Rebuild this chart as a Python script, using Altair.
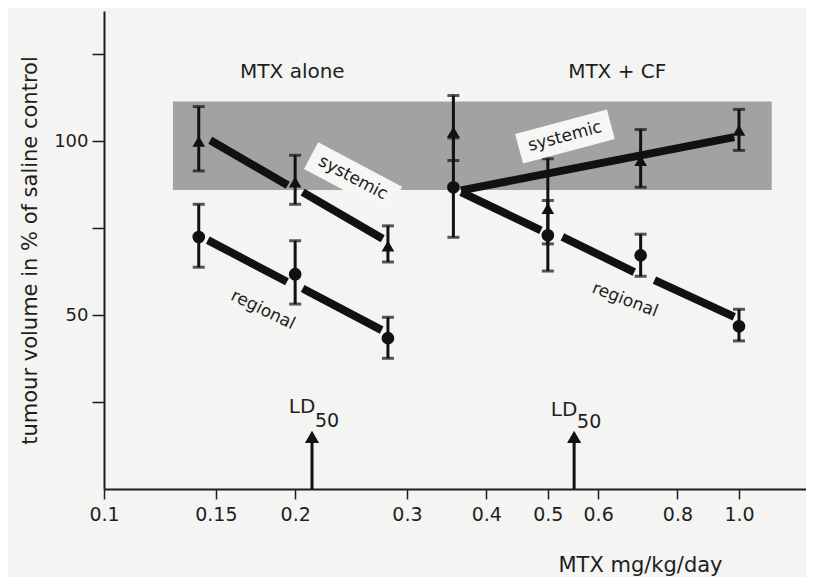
import altair as alt
import pandas as pd

FONT = "DejaVu Sans"
INK = "#1e1e1e"

# ---------------- data ----------------
# MTX alone
alone_x = [0.141, 0.2, 0.28]
alone_sys = [100.0, 88.3, 69.9]
alone_sys_lo = [91.5, 81.9, 65.3]
alone_sys_hi = [110.0, 96.0, 75.7]
alone_reg = [72.5, 61.8, 43.4]
alone_reg_lo = [63.8, 53.2, 37.6]
alone_reg_hi = [81.9, 71.4, 49.4]

# MTX + CF
cf_x = [0.355, 0.5, 0.7, 1.0]
cf_sys = [102.7, 80.7, 94.5, 103.2]
cf_sys_lo = [94.5, 70.5, 86.8, 97.4]
cf_sys_hi = [113.2, 95.0, 103.4, 109.2]
cf_reg = [86.8, 73.0, 67.2, 46.8]
cf_reg_lo = [72.4, 62.7, 61.2, 42.6]
cf_reg_hi = [101.0, 83.0, 73.3, 51.7]

# fitted (thick) lines, drawn as segments with gaps
seg_x1 = [0.147, 0.2055, 0.1457, 0.2055, 0.365, 0.365, 0.527, 0.736]
seg_y1 = [100.3, 85.4, 71.6, 57.7, 85.9, 85.4, 72.5, 60.1]
seg_x2 = [0.1947, 0.2747, 0.1942, 0.2737, 0.983, 0.4877, 0.684, 0.983]
seg_y2 = [87.4, 72.0, 59.6, 45.7, 101.2, 74.4, 62.4, 49.5]

# saline-control range (shaded band)
band_x = [0.1284]
band_x2 = [1.126]
band_y = [86.0]
band_y2 = [111.5]

# group headings
head_text = ["MTX alone", "MTX + CF"]
head_x = [0.198, 0.643]
head_y = [120.0, 120.0]

# line labels
lab_text = ["systemic", "regional", "systemic", "regional"]
lab_x = [0.2467, 0.178, 0.532, 0.6614]
lab_y = [89.5, 51.5, 101.4, 54.4]
lab_angle = [28, 26, -15, 21]
box_x = [0.2467, 0.532]
box_y = [89.5, 101.4]
box_angle = [28, -15]

# LD50 markers
ld_x = [0.2126, 0.55]
ld_head = [15.0, 15.0]
ld_text_y = [23.6, 22.7]
ld_sub_y = [19.6, 19.3]

# axes
x_ticks = [0.1, 0.15, 0.2, 0.3, 0.4, 0.5, 0.6, 0.8, 1.0]
x_tick_labels = ["0.1", "0.15", "0.2", "0.3", "0.4", "0.5", "0.6", "0.8", "1.0"]
y_ticks = [25, 50, 75, 100, 125]
y_labelled = [50, 100]

# ---------------- chart ----------------
label_expr = "".join(
    f"datum.value == {v} ? '{l}' : " for v, l in zip(x_ticks, x_tick_labels)
) + "''"
y_label_expr = " || ".join(f"datum.value == {v}" for v in y_labelled)
y_label_expr = f"({y_label_expr}) ? datum.label : ''"

xscale = alt.Scale(type="log", domain=[0.1, 1.275], nice=False)
yscale = alt.Scale(domain=[0, 137.5], nice=False, zero=False)

xaxis = alt.Axis(
    values=x_ticks, labelExpr=label_expr, grid=False, labelOverlap=False,
    labelFlush=False, tickSize=10, tickWidth=1.5, tickColor=INK,
    domainColor=INK, domainWidth=2, labelFontSize=19, labelColor=INK,
    labelPadding=6, labelFont=FONT,
    title="MTX mg/kg/day", titleFont=FONT, titleFontSize=21,
    titleFontWeight="normal", titleColor=INK, titleX=536, titleY=76,
    titleAlign="center", titleBaseline="middle",
)
yaxis = alt.Axis(
    values=y_ticks, labelExpr=y_label_expr, grid=False, tickSize=12,
    tickWidth=1.5, tickColor=INK, domainColor=INK, domainWidth=2,
    labelFontSize=18, labelColor=INK, labelPadding=4, labelFont=FONT,
    title="tumour volume in % of saline control", titleFont=FONT,
    titleFontSize=21, titleFontWeight="normal", titleColor=INK,
    titleX=-74, titleY=239, titleAlign="center", titleBaseline="middle",
)

X = alt.X("x:Q", scale=xscale, axis=xaxis)
Y = alt.Y("y:Q", scale=yscale, axis=yaxis)

band = alt.Chart(pd.DataFrame({"x": band_x, "x2": band_x2, "y": band_y, "y2": band_y2})).mark_rect(
    color="#a2a2a2"
).encode(x=X, x2="x2:Q", y=Y, y2="y2:Q")

segs = alt.Chart(pd.DataFrame({"x": seg_x1, "y": seg_y1, "x2": seg_x2, "y2": seg_y2})).mark_rule(
    color="#111111", strokeWidth=8, strokeCap="butt"
).encode(x=X, y=Y, x2="x2:Q", y2="y2:Q")

pts_rows = []
for xs, ys, lo, hi, shape in [
    (alone_x, alone_sys, alone_sys_lo, alone_sys_hi, "triangle-up"),
    (alone_x, alone_reg, alone_reg_lo, alone_reg_hi, "circle"),
    (cf_x, cf_sys, cf_sys_lo, cf_sys_hi, "triangle-up"),
    (cf_x, cf_reg, cf_reg_lo, cf_reg_hi, "circle"),
]:
    for a, b, c, d in zip(xs, ys, lo, hi):
        pts_rows.append({"x": a, "y": b, "lo": c, "hi": d, "shape": shape})
pts = pd.DataFrame(pts_rows)

ebar = alt.Chart(pts).mark_rule(color="#111111", strokeWidth=3).encode(
    x=X, y=alt.Y("lo:Q", scale=yscale, axis=yaxis), y2="hi:Q"
)
cap_lo = alt.Chart(pts).mark_tick(color="#111111", thickness=3, size=12, orient="horizontal").encode(
    x=X, y=alt.Y("lo:Q", scale=yscale, axis=yaxis)
)
cap_hi = alt.Chart(pts).mark_tick(color="#111111", thickness=3, size=12, orient="horizontal").encode(
    x=X, y=alt.Y("hi:Q", scale=yscale, axis=yaxis)
)
tri = alt.Chart(pts[pts["shape"] == "triangle-up"]).mark_point(
    shape="triangle-up", filled=True, color="#111111", size=160, opacity=1
).encode(x=X, y=Y)
circ = alt.Chart(pts[pts["shape"] == "circle"]).mark_point(
    shape="circle", filled=True, color="#111111", size=160, opacity=1
).encode(x=X, y=Y)

boxes = alt.Chart(pd.DataFrame({"x": box_x, "y": box_y, "a": box_angle})).mark_point(
    shape="M-1,-0.32L1,-0.32L1,0.32L-1,0.32Z", filled=True, color="#f6f6f4",
    size=9025, opacity=1
).encode(x=X, y=Y, angle=alt.Angle("a:Q", scale=None))

labels = alt.Chart(pd.DataFrame({"x": lab_x, "y": lab_y, "t": lab_text, "a": lab_angle})).mark_text(
    font=FONT, fontSize=17, color=INK, align="center", baseline="middle"
).encode(x=X, y=Y, text="t:N", angle=alt.Angle("a:Q", scale=None))

heads = alt.Chart(pd.DataFrame({"x": head_x, "y": head_y, "t": head_text})).mark_text(
    font=FONT, fontSize=20, color=INK, align="center", baseline="middle"
).encode(x=X, y=Y, text="t:N")

ld_df = pd.DataFrame({"x": ld_x, "y": [0, 0], "h": ld_head,
                      "ty": ld_text_y, "sy": ld_sub_y})
ld_shaft = alt.Chart(ld_df).mark_rule(color="#111111", strokeWidth=3).encode(
    x=X, y=Y, y2=alt.Y2("h:Q")
)
ld_headm = alt.Chart(ld_df).mark_point(
    shape="triangle-up", filled=True, color="#111111", size=200, opacity=1
).encode(x=X, y=alt.Y("h:Q", scale=yscale, axis=yaxis))
ld_txt = alt.Chart(ld_df).mark_text(
    font=FONT, fontSize=20, color=INK, align="center", baseline="middle", dx=-10
).encode(x=X, y=alt.Y("ty:Q", scale=yscale, axis=yaxis), text=alt.value("LD"))
ld_sub = alt.Chart(ld_df).mark_text(
    font=FONT, fontSize=19, color=INK, align="center", baseline="middle", dx=15
).encode(x=X, y=alt.Y("sy:Q", scale=yscale, axis=yaxis), text=alt.value("50"))

chart = alt.layer(
    band, segs, ebar, cap_lo, cap_hi, tri, circ, boxes, labels, heads,
    ld_shaft, ld_headm, ld_txt, ld_sub
).properties(
    width=702, height=478,
    padding={"left": 96, "top": 3, "right": 0, "bottom": 88},
    autosize=alt.AutoSizeParams(type="none"),
    background="#f4f4f2",
).configure_view(stroke=None).configure_text(font=FONT)

chart.save("out.html", embed_options={"renderer": "svg", "actions": False})
